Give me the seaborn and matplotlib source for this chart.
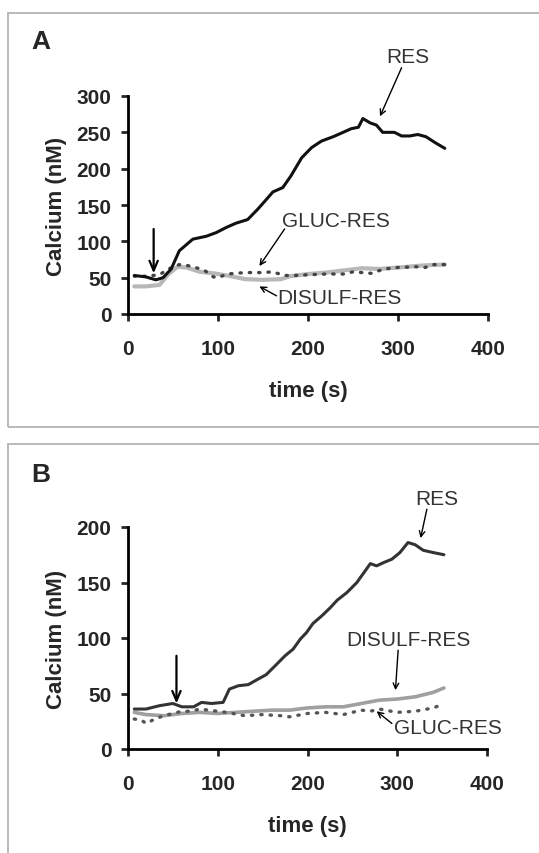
import seaborn as sns
import pandas as pd
import matplotlib.pyplot as plt
from matplotlib.patches import Rectangle

# panel A
a_res_t = [7, 20, 31, 39, 48, 57, 72, 87, 98, 109, 120, 133, 144, 154, 161, 172, 181, 193, 204, 215,
           228, 239, 248, 256, 261, 269, 276, 283, 296, 304, 313, 322, 331, 341, 352]
a_res = [53, 51, 47, 50, 62, 87, 103, 107, 112, 119, 125, 130, 144, 158, 168, 174, 190, 215, 229, 238,
         244, 250, 255, 257, 269, 263, 260, 250, 250, 245, 245, 247, 244, 236, 228]
a_gluc_t = [7, 20, 35, 45, 57, 65, 75, 85, 95, 100, 110, 130, 150, 160, 175, 185, 200, 220, 240, 250,
            260, 270, 285, 300, 320, 330, 340, 352]
a_gluc = [52, 52, 54, 62, 68, 67, 64, 60, 51, 50, 55, 57, 57, 58, 53, 53, 54, 55, 55, 58,
          57, 56, 62, 64, 65, 64, 68, 68]
a_dis_t = [7, 20, 35, 45, 55, 65, 80, 95, 110, 130, 150, 170, 180, 200, 220, 240, 260, 280, 300, 330, 352]
a_dis = [38, 38, 40, 55, 65, 64, 58, 56, 53, 48, 47, 48, 52, 55, 57, 60, 63, 62, 64, 67, 68]

# panel B
b_res_t = [7, 20, 35, 50, 60, 73, 82, 93, 106, 113, 123, 134, 145, 154, 164, 175, 184, 192, 199, 206,
           216, 225, 233, 244, 255, 270, 277, 285, 294, 303, 312, 320, 329, 340, 352]
b_res = [36, 36, 39, 41, 38, 38, 42, 41, 42, 54, 57, 58, 63, 67, 75, 84, 90, 99, 105, 113,
         120, 127, 134, 141, 150, 167, 165, 168, 171, 177, 186, 184, 179, 177, 175]
b_dis_t = [7, 20, 40, 60, 80, 100, 120, 140, 160, 180, 200, 220, 240, 260, 280, 300, 320, 340, 352]
b_dis = [33, 31, 30, 32, 33, 32, 33, 34, 35, 35, 37, 38, 38, 41, 44, 45, 47, 51, 55]
b_gluc_t = [7, 15, 20, 30, 40, 50, 60, 70, 80, 90, 100, 110, 130, 150, 170, 180, 200, 220, 240, 260,
            270, 280, 300, 320, 340, 350]
b_gluc = [27, 26, 23, 27, 30, 32, 34, 34, 36, 35, 34, 33, 30, 31, 30, 29, 32, 33, 31, 35,
          34, 36, 33, 34, 37, 40]

sns.set_style("ticks")
plt.rcParams['font.family'] = ['Liberation Sans', 'DejaVu Sans']

fig = plt.figure(figsize=(5.39, 8.54), dpi=100)

# panel frames
for y0, h in [(1 - 428 / 854, (428 - 14) / 854), (-0.05, 1 - 445 / 854 + 0.05)]:
    fig.add_artist(Rectangle((8 / 539, y0), 1.2, h, transform=fig.transFigure,
                             fill=False, edgecolor='#b4b4b4', linewidth=1.3))

axA = fig.add_axes([128 / 539, 1 - 315 / 854, 360 / 539, 218 / 854])
axB = fig.add_axes([128 / 539, 1 - 750 / 854, 359 / 539, 222 / 854])


def draw(ax, t, y, color, lw, ls='-'):
    df = pd.DataFrame({'t': t, 'y': y})
    sns.lineplot(data=df, x='t', y='y', ax=ax, color=color, linewidth=lw, linestyle=ls,
                 dash_capstyle='round', solid_capstyle='round')


draw(axA, a_dis_t, a_dis, '#b8b8b8', 3.0)
draw(axA, a_gluc_t, a_gluc, '#444444', 2.4, (0, (0.4, 2.4)))
draw(axA, a_res_t, a_res, '#111111', 2.2)

draw(axB, b_dis_t, b_dis, '#a0a0a0', 2.6)
draw(axB, b_gluc_t, b_gluc, '#555555', 2.4, (0, (0.4, 2.4)))
draw(axB, b_res_t, b_res, '#333333', 2.2)

for ax, ymax, step in [(axA, 300, 50), (axB, 200, 50)]:
    ax.set_xlim(0, 400)
    ax.set_ylim(0, ymax)
    ax.set_xticks(range(0, 401, 100))
    ax.set_yticks(range(0, ymax + 1, step))
    for side in ['top', 'right']:
        ax.spines[side].set_visible(False)
    for side in ['left', 'bottom']:
        ax.spines[side].set_linewidth(2.0)
        ax.spines[side].set_color('black')
    ax.tick_params(axis='x', length=5, width=2, pad=13, labelsize=15)
    ax.tick_params(axis='y', length=5, width=2, pad=7, labelsize=15)
    for lab in ax.get_xticklabels() + ax.get_yticklabels():
        lab.set_fontweight('bold')
    ax.set_xlabel('time (s)', fontsize=16, fontweight='bold', labelpad=16)
    ax.set_ylabel('Calcium (nM)', fontsize=16, fontweight='bold', labelpad=7)
    ax.set_facecolor('none')

txt = dict(fontsize=15, color='#333333', va='center')
arr = dict(arrowstyle='->', color='black', lw=1.0, shrinkA=0, shrinkB=0)
arr_v = dict(arrowstyle='->,head_length=0.7,head_width=0.3', color='black', lw=1.6,
             shrinkA=0, shrinkB=0)

axA.text(311, 355, 'RES', ha='center', **txt)
axA.annotate('', xy=(280, 272), xytext=(304, 339), arrowprops=arr, annotation_clip=False)
axA.text(231, 128, 'GLUC-RES', ha='center', **txt)
axA.annotate('', xy=(146, 66), xytext=(174, 117), arrowprops=arr)
axA.text(166, 23, 'DISULF-RES', ha='left', **txt)
axA.annotate('', xy=(146, 38), xytext=(165, 25), arrowprops=arr)
axA.annotate('', xy=(28.5, 56), xytext=(28.5, 117), arrowprops=arr_v)
fig.text(31 / 539, 1 - 42 / 854, 'A', fontsize=19, fontweight='bold', va='center')

axB.text(344, 226, 'RES', ha='center', **txt)
axB.annotate('', xy=(326, 190), xytext=(333, 216), arrowprops=arr, annotation_clip=False)
axB.text(312, 99, 'DISULF-RES', ha='center', **txt)
axB.annotate('', xy=(298, 53), xytext=(301, 89), arrowprops=arr)
axB.text(296, 19, 'GLUC-RES', ha='left', **txt)
axB.annotate('', xy=(277, 34), xytext=(294, 23), arrowprops=arr)
axB.annotate('', xy=(54, 41), xytext=(54, 84), arrowprops=arr_v)
fig.text(31 / 539, 1 - 475 / 854, 'B', fontsize=19, fontweight='bold', va='center')

fig.savefig('out.png', dpi=100)
